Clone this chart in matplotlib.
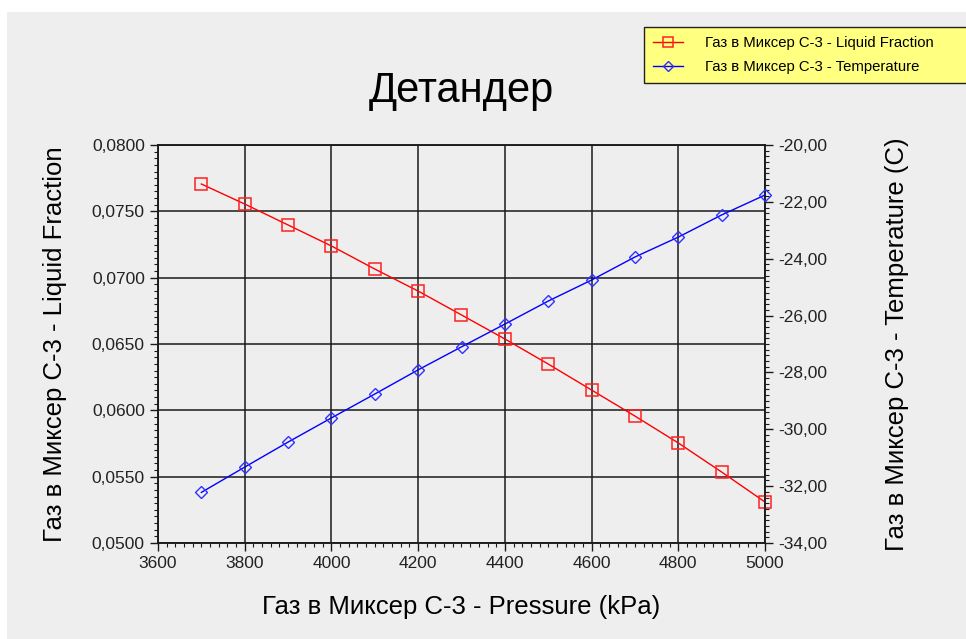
import matplotlib
matplotlib.use("Agg")
import matplotlib.pyplot as plt
from matplotlib.patches import Rectangle
from matplotlib.ticker import MultipleLocator, FuncFormatter

plt.rcParams['font.family'] = ['Liberation Sans', 'DejaVu Sans']

# данные кейс-анализа детандера
pressure = [3700, 3800, 3900, 4000, 4100, 4200, 4300,
            4400, 4500, 4600, 4700, 4800, 4900, 5000]
liquid_fraction = [0.07706, 0.07555, 0.07397, 0.07239, 0.07065, 0.06899, 0.06719,
                   0.06538, 0.06349, 0.06153, 0.05957, 0.05754, 0.05535, 0.05309]
temperature = [-32.22, -31.33, -30.45, -29.60, -28.76, -27.91, -27.10,
               -26.30, -25.49, -24.75, -23.94, -23.24, -22.46, -21.76]

title = "Детандер"
x_label = "Газ в Миксер С-3 - Pressure (kPa)"
y1_label = "Газ в Миксер С-3 - Liquid Fraction"
y2_label = "Газ в Миксер С-3 - Temperature (C)"

bg = '#eeeeee'
W, H = 966, 639
fig = plt.figure(figsize=(W / 100, H / 100), dpi=100, facecolor='white')
fig.patches.append(Rectangle((7 / W, 0), 1, 1 - 12 / H, transform=fig.transFigure,
                             facecolor=bg, edgecolor='none', zorder=-10))

ax = fig.add_axes([158 / W, 1 - 543 / H, (765 - 158) / W, (543 - 145) / H])
ax.set_facecolor(bg)
ax2 = ax.twinx()

l1, = ax.plot(pressure, liquid_fraction, color='#ff0000', lw=1, marker='s', ms=9,
              mfc='none', mec='#ff2020', mew=1.1, label="Газ в Миксер С-3 - Liquid Fraction",
              clip_on=False, zorder=3)
l2, = ax2.plot(pressure, temperature, color='#0000ff', lw=1, marker='D', ms=6.5,
               mfc='none', mec='#3030ff', mew=1.0, label="Газ в Миксер С-3 - Temperature",
               clip_on=False, zorder=3)

ax.set_xlim(3600, 5000)
ax.set_ylim(0.05, 0.08)
ax2.set_ylim(-34, -20)

ax.xaxis.set_major_locator(MultipleLocator(200))
ax.xaxis.set_minor_locator(MultipleLocator(20))
ax.yaxis.set_major_locator(MultipleLocator(0.005))
ax.yaxis.set_minor_locator(MultipleLocator(0.0005))
ax2.yaxis.set_major_locator(MultipleLocator(2))
ax2.yaxis.set_minor_locator(MultipleLocator(0.2))

ax.yaxis.set_major_formatter(FuncFormatter(lambda v, p: f"{v:.4f}".replace('.', ',')))
ax2.yaxis.set_major_formatter(FuncFormatter(lambda v, p: f"{v:.2f}".replace('.', ',')))

ax.grid(True, which='major', color='#1a1a1a', lw=1.1)
for a in (ax, ax2):
    for s in a.spines.values():
        s.set_color('#1a1a1a')
        s.set_linewidth(1.1)
    a.tick_params(which='major', length=6, width=1, colors='#1a1a1a', labelsize=12.5,
                  labelcolor='#222222')
    a.tick_params(which='minor', length=3, width=0.8, colors='#1a1a1a')

ax.set_title(title, fontsize=30, pad=31)

ax.set_xlabel(x_label, fontsize=18.5)
ax.xaxis.set_label_coords(0.5, (543 - 607) / 398)
ax.xaxis.label.set_va('center')

ax.set_ylabel(y1_label, fontsize=18.5)
ax.yaxis.set_label_coords((55 - 158) / 607, 0.5)
ax.yaxis.label.set_va('center')

ax2.set_ylabel(y2_label, fontsize=18.5, rotation=90)
ax2.yaxis.set_label_coords((897 - 158) / 607, 0.5)
ax2.yaxis.label.set_va('center')

# легенда уходит за правый край окна
leg = fig.legend(handles=[l1, l2], loc='upper left', mode='expand',
                 bbox_to_anchor=(644 / W, 1 - 83 / H, (985 - 644) / W, 56 / H),
                 borderaxespad=0, fancybox=False, framealpha=1, facecolor='#ffff80',
                 edgecolor='#222222', fontsize=10.7, handlelength=2.0, handletextpad=1.5,
                 labelspacing=0.7, borderpad=0.6, markerscale=0.85)
leg.get_frame().set_linewidth(1)

fig.savefig("out.png", dpi=100, facecolor=fig.get_facecolor())
